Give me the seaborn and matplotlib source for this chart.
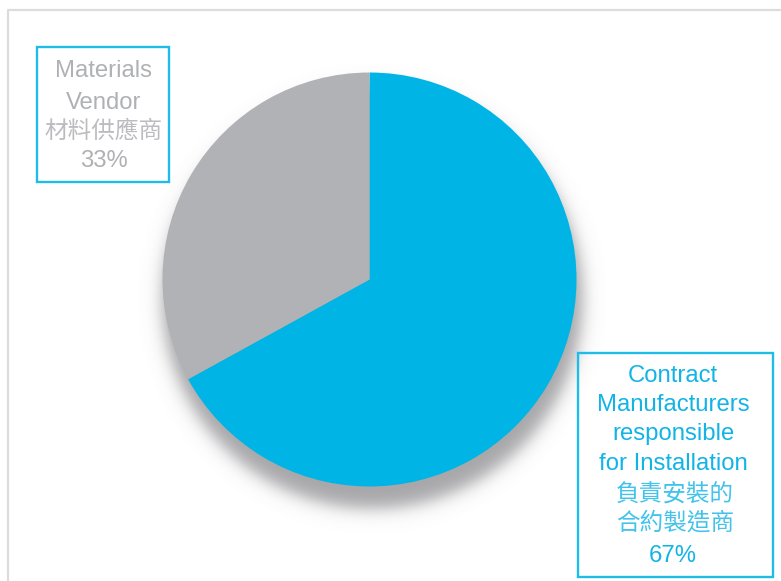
import numpy as np
import matplotlib
matplotlib.use("Agg")
import matplotlib.pyplot as plt
from matplotlib.patches import Rectangle
import seaborn as sns

# ---- data ----
categories = ["Contract Manufacturers responsible for Installation", "Materials Vendor"]
values = [67, 33]
labels_en = [["Contract", "Manufacturers", "responsible", "for Installation"],
             ["Materials", "Vendor"]]
labels_zh = [["負責安裝的", "合約製造商"], ["材料供應商"]]
pct_labels = [f"{v}%" for v in values]

BLUE = "#00B5E5"
GRAY = "#B1B2B5"
BLUE_TXT = "#12B4E6"
GRAY_TXT = "#B0B1B4"
BOX = "#1FBCE8"

sns.set_theme(style="white")
plt.rcParams["font.family"] = ["Liberation Sans", "Noto Sans CJK TC", "DejaVu Sans"]
palette = sns.color_palette([BLUE, GRAY])

W, H = 781, 581
fig = plt.figure(figsize=(W / 100, H / 100), dpi=100)
ax = fig.add_axes([0, 0, 1, 1])
ax.set_xlim(0, W)
ax.set_ylim(0, H)
ax.axis("off")

def Y(p):
    return H - p

# frame
ax.plot([7.5, 7.5, W + 5], [Y(H + 5), Y(9.5), Y(9.5)], color="#DCDCDC", lw=1.6,
        solid_capstyle="butt", zorder=1)

cx, cy, r = 369.5, 279.5, 207.0

# soft shadow
xs = np.arange(0, W) + 0.5
ys = np.arange(0, H) + 0.5
XX, YY = np.meshgrid(xs, ys)
d = np.hypot(XX - (cx + 3), YY - (cy + 3))
alpha = 0.6 / (1 + np.exp((d - (r + 3)) / 5.0))
img = np.zeros((H, W, 4))
img[..., 0] = 0.42
img[..., 1] = 0.42
img[..., 2] = 0.44
img[..., 3] = alpha
ax.imshow(img, extent=(0, W, H, 0), origin="upper", zorder=2, interpolation="bilinear")
ax.set_xlim(0, W)
ax.set_ylim(0, H)

ax.pie(values, colors=palette, startangle=90, counterclock=False,
       center=(cx, Y(cy)), radius=r, frame=True,
       wedgeprops=dict(linewidth=0, antialiased=True, zorder=3))
ax.set_xlim(0, W)
ax.set_ylim(0, H)
ax.set_aspect("equal")
ax.axis("off")

# label boxes
ax.add_patch(Rectangle((37, Y(182.3)), 132.3, 135.3, fill=False, ec=BOX, lw=1.7, zorder=5))
ax.add_patch(Rectangle((578.3, Y(576.7)), 195, 224, fill=False, ec=BOX, lw=1.7, zorder=5))

EN_FS = 17.2
ZH_FS = 17.0
CJK = ["Noto Sans CJK TC", "DejaVu Sans"]

# Materials vendor label (index 1)
bx = 103.5
for t, b in zip(labels_en[1], [77.3, 109.0]):
    ax.text(bx, Y(b), t, ha="center", va="baseline", fontsize=EN_FS, color=GRAY_TXT, zorder=6)
for t, c in zip(labels_zh[1], [131.7]):
    ax.text(bx, Y(c), t, ha="center", va="center", fontsize=ZH_FS, color=GRAY_TXT,
            family=CJK, fontweight="light", alpha=0.85, zorder=6)
ax.text(bx, Y(167.3), pct_labels[1], ha="center", va="baseline", fontsize=EN_FS,
        color=GRAY_TXT, zorder=6)

# Contract manufacturers label (index 0)
bx2 = 673.0
for t, b in zip(labels_en[0], [381.7, 411.0, 440.3, 469.5]):
    ax.text(bx2, Y(b), t, ha="center", va="baseline", fontsize=EN_FS, color=BLUE_TXT, zorder=6)
for t, c in zip(labels_zh[0], [494.8, 523.5]):
    ax.text(bx2 + 2, Y(c), t, ha="center", va="center", fontsize=ZH_FS, color=BLUE_TXT,
            family=CJK, fontweight="light", alpha=0.8, zorder=6)
ax.text(bx2, Y(561.7), pct_labels[0], ha="center", va="baseline", fontsize=EN_FS,
        color=BLUE_TXT, zorder=6)

fig.savefig("out.png", dpi=100)
